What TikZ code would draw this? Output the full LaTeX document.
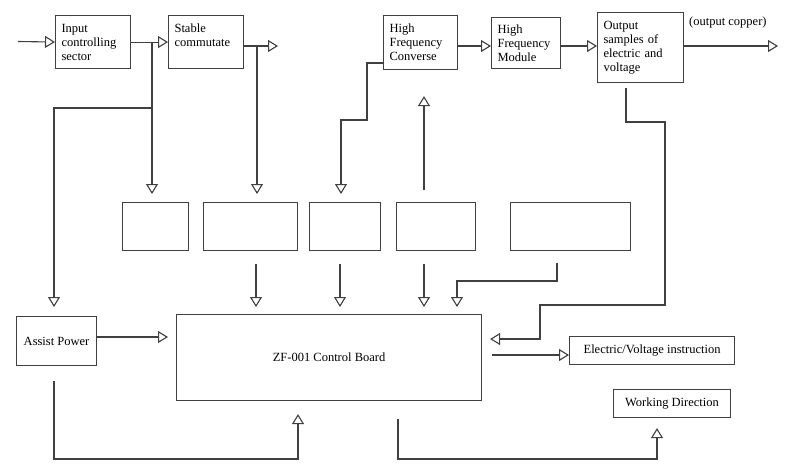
\documentclass[tikz,border=0pt]{standalone}
\usepackage{fontspec}
\setmainfont{Liberation Serif}
\usetikzlibrary{arrows.meta,positioning,calc}
\definecolor{linec}{HTML}{404040}

\begin{document}
\begin{tikzpicture}[x=1pt,y=-1pt,
    box/.style={draw=linec,line width=1.1pt,inner sep=0pt,font=\fontsize{12.5}{14}\selectfont},
    topbox/.style={box,anchor=north west,inner xsep=6pt,align=left},
    arr/.style={draw=linec,line width=1.1pt,-{Triangle[open,length=10pt,width=12pt]}}]
    \useasboundingbox (0,0) rectangle (785,474);

    % Top row
    \node[topbox,text width=63pt,minimum height=53pt] (inp) at (55,15) {Input\\controlling\\sector};
    \node[topbox,text width=63pt,minimum height=53pt] (stab) at (168,15) {Stable\\commutate\\\mbox{}};
    \node[topbox,text width=62pt,minimum height=54pt] (hfc) at (383,15) {High\\Frequency\\Converse};
    \node[topbox,text width=57pt,minimum height=51pt] (hfm) at (491,17) {High\\Frequency\\Module};
    \node[topbox,text width=74pt,minimum height=70pt] (outs) at (597,12) {Output\\samples of\\electric and\\voltage};
    \node[anchor=west,inner sep=0pt,font=\fontsize{12.5}{14}\selectfont] (copper) at (689,22) {(output copper)};

    % Middle row
    \node[box,anchor=north west,minimum width=66pt,minimum height=48pt] (m1) at (122,202) {};
    \node[box,anchor=north west,minimum width=94pt,minimum height=48pt] (m2) at (203,202) {};
    \node[box,anchor=north west,minimum width=71pt,minimum height=48pt] (m3) at (309,202) {};
    \node[box,anchor=north west,minimum width=79pt,minimum height=48pt] (m4) at (396,202) {};
    \node[box,anchor=north west,minimum width=120pt,minimum height=48pt] (m5) at (510,202) {};

    % Bottom row
    \node[box,anchor=north west,minimum width=80pt,minimum height=49pt] (assist) at (16,316) {Assist Power};
    \node[box,anchor=north west,minimum width=305pt,minimum height=86pt] (ctrl) at (176,314) {ZF-001 Control Board};
    \node[box,anchor=north west,minimum width=165pt,minimum height=28pt] (elec) at (569,336) {Electric/Voltage instruction};
    \node[box,anchor=north west,minimum width=117pt,minimum height=28pt] (work) at (613,389) {Working Direction};

    \coordinate (in0) at (18,41.5);
    \coordinate (stabout) at (278,46);
    \coordinate (outc) at (778,46);
    \coordinate (j1) at (152,41.5);
    \coordinate (j2) at (257,46);

    % Arrows
    \draw[arr] (in0) -- (inp.west);
    \draw[arr] (inp.east) -- (stab.west);
    \draw[arr] (stab.east |- stabout) -- (stabout);
    \draw[arr] (hfc.east |- 0,46) -- (hfm.west |- 0,46);
    \draw[arr] (hfm.east |- 0,46) -- (outs.west |- 0,46);
    \draw[arr] (outs.east |- outc) -- (outc);

    \draw[arr,shorten >=8pt] (j1) -- (m1.north -| j1);
    \draw[arr,shorten >=9pt] (j1 |- 0,108) -| (assist.north -| 54,0);
    \draw[arr,shorten >=8pt] (j2) -- (m2.north -| j2);
    \draw[arr,shorten >=8pt] (hfc.west |- 0,63) -| (367,120) -| (m3.north -| 341,0);
    \draw[arr,shorten <=12pt,shorten >=26pt] (m4.north -| 424,0) -- (hfc.south -| 424,0);

    \draw[arr,shorten <=5pt,shorten >=8pt] (outs.south -| 626,0) |- (665,122) |- (540,305) |- (ctrl.east |- 0,339);

    \foreach \m/\x in {m2/256,m3/340,m4/424}
        \draw[arr,shorten <=13pt,shorten >=7pt] (\m.south -| \x,0) -- (ctrl.north -| \x,0);
    \draw[arr,shorten <=12pt,shorten >=7pt] (m5.south -| 557,0) |- (457,281) -- (ctrl.north -| 457,0);

    \draw[arr,shorten >=8pt] (assist.east |- 0,337) -- (ctrl.west |- 0,337);
    \draw[arr,shorten <=10pt] (ctrl.east |- 0,355) -- (elec.west |- 0,355);

    \draw[arr,shorten <=15pt,shorten >=13pt] (assist.south -| 54,0) |- (298,459) -- (ctrl.south -| 298,0);
    \draw[arr,shorten <=18pt,shorten >=10pt] (ctrl.south -| 398,0) |- (657,459) -- (work.south -| 657,0);
\end{tikzpicture}
\end{document}
